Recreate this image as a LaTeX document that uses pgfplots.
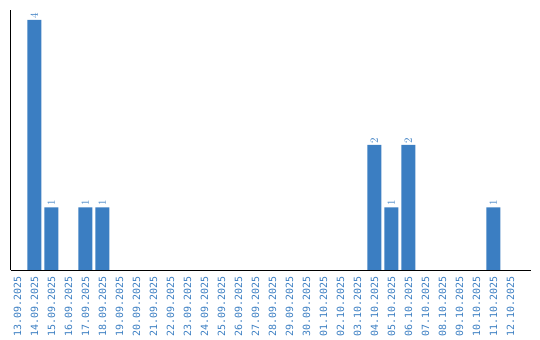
\documentclass[border=0pt]{standalone}
\usepackage{pgfplots}
\pgfplotsset{compat=1.18}
\usepackage{fontspec}
\setmainfont{DejaVu Sans Mono}
\definecolor{barblue}{RGB}{59,126,194}
\begin{document}
\begin{tikzpicture}
\begin{axis}[
  scale only axis, width=520bp, height=260bp,
  xmin=-0.41, xmax=30.18, ymin=0, ymax=4.16,
  axis lines*=left,
  axis line style={line width=1bp, black},
  ytick=\empty,
  xtick={0,...,29},
  xticklabels={13.09.2025,14.09.2025,15.09.2025,16.09.2025,17.09.2025,18.09.2025,19.09.2025,20.09.2025,21.09.2025,22.09.2025,23.09.2025,24.09.2025,25.09.2025,26.09.2025,27.09.2025,28.09.2025,29.09.2025,30.09.2025,01.10.2025,02.10.2025,03.10.2025,04.10.2025,05.10.2025,06.10.2025,07.10.2025,08.10.2025,09.10.2025,10.10.2025,11.10.2025,12.10.2025},
  xticklabel style={rotate=90, anchor=east, inner sep=0pt, xshift=0pt, font=\fontsize{10}{10}\selectfont, text=barblue},
  xticklabel shift=6.5bp,
  major tick length=0pt,
  tick style={draw=none},
  ybar, bar width=14bp,
  nodes near coords,
  nodes near coords style={rotate=90, anchor=west, inner sep=1.5bp, font=\fontsize{10.5}{10}\selectfont, text=barblue},
]
\addplot[fill=barblue, draw=none] coordinates {(1,4) (2,1) (4,1) (5,1) (21,2) (22,1) (23,2) (28,1)};
\end{axis}
\pgfresetboundingbox
\path (current axis.south west) +(-10.5bp,-70bp) coordinate (a);
\path (current axis.north east) +(9.5bp,10bp) coordinate (b);
\useasboundingbox (a) rectangle (b);
\end{tikzpicture}
\end{document}
